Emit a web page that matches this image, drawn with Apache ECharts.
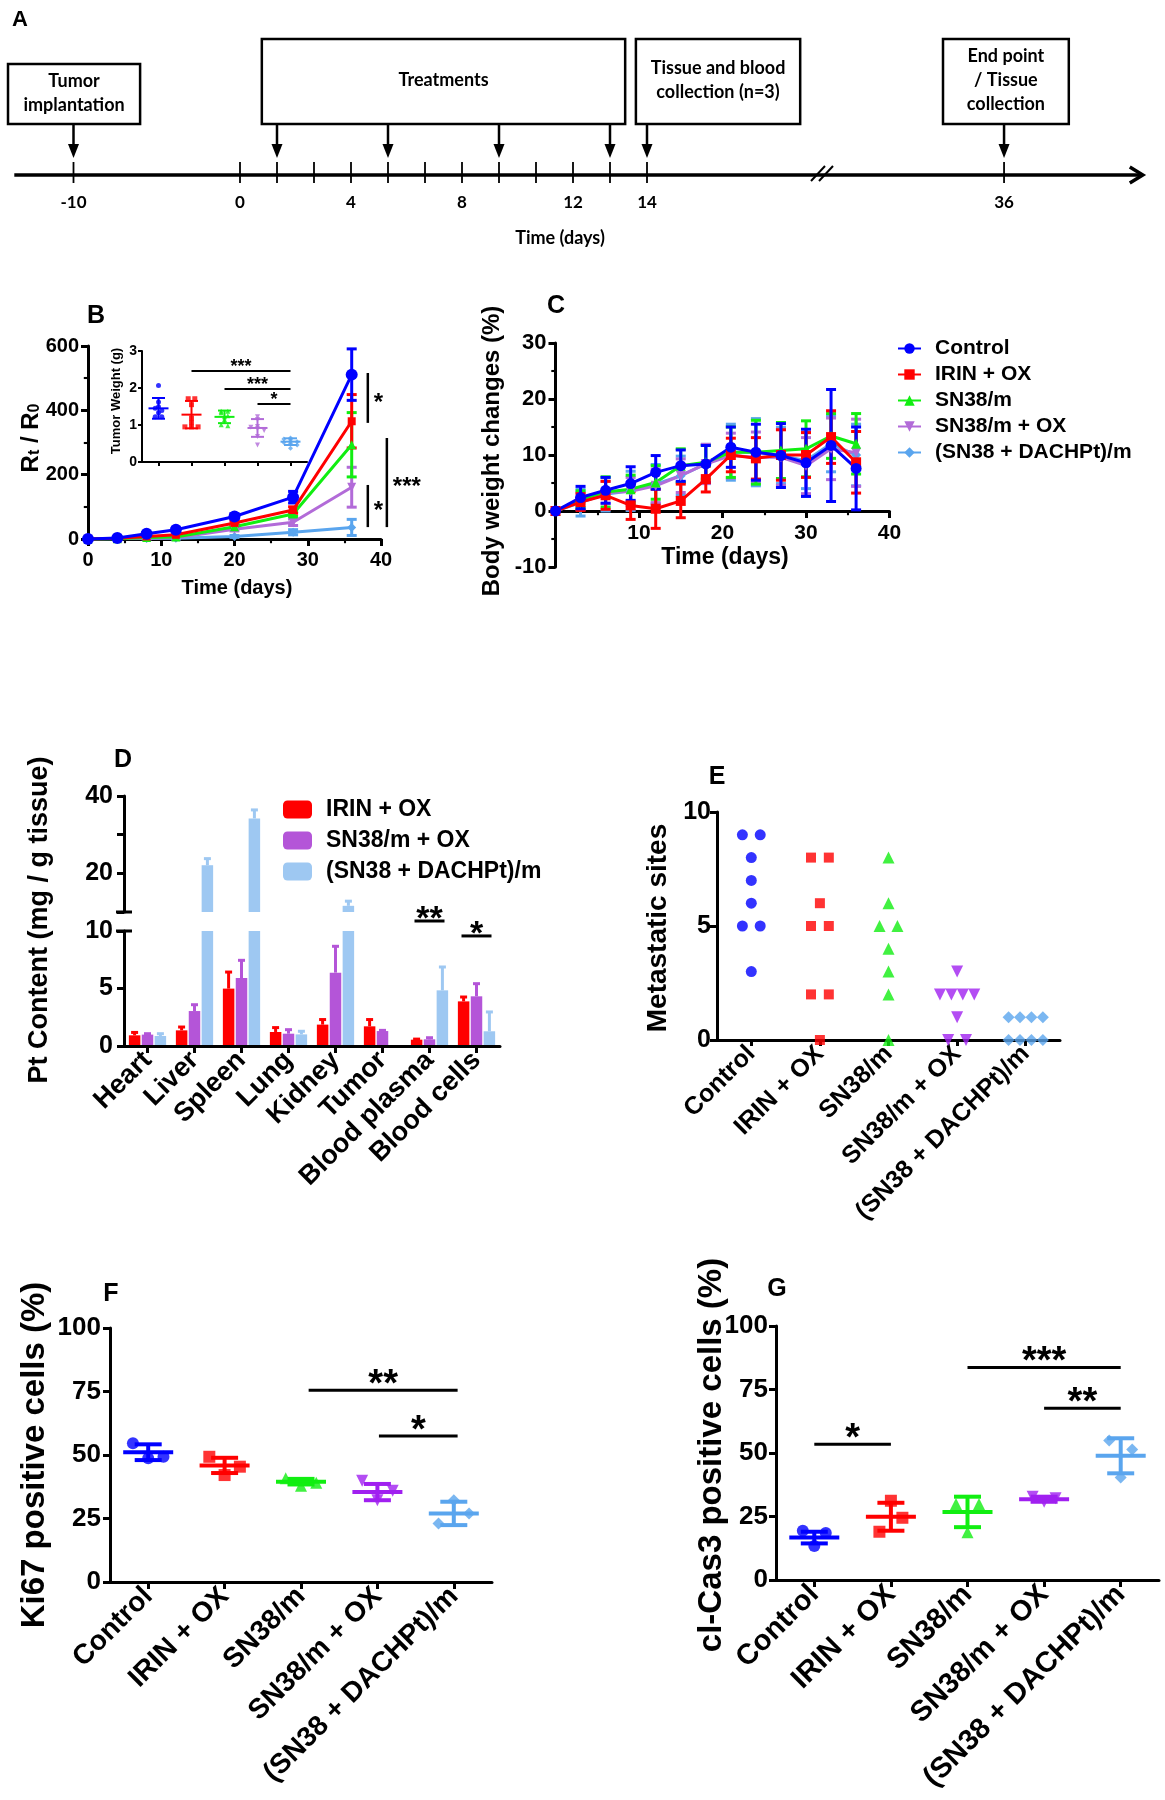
<!DOCTYPE html>
<html>
<head>
<meta charset="utf-8">
<script src="https://cdn.jsdelivr.net/npm/echarts@6.0.0/dist/echarts.min.js"></script>
<style>
html,body{margin:0;padding:0;background:#ffffff;}
#chart{width:1165px;height:1800px;}
</style>
</head>
<body>
<div id="chart"></div>
<script>
// ======================= DATA =======================
const groups = ['Control', 'IRIN + OX', 'SN38/m', 'SN38/m + OX', '(SN38 + DACHPt)/m'];

// ---- Panel A: schematic timeline (unit = one tick step of the schematic)
const timelineTicks = [-4.5, 0, 1, 2, 3, 4, 5, 6, 7, 8, 9, 10, 11, 20.65];
const timelineLabelPos = [-4.5, 0, 3, 6, 9, 11, 20.65];
const timelineLabels = ['-10', '0', '4', '8', '12', '14', '36'];
const eventArrows = [-4.5, 1, 4, 7, 10, 11, 20.65];
const timelineBreak = [15.73];
const timelineSpan = [-6.1, 24.4];
const boxLabels = ['Tumor\nimplantation', 'Treatments', 'Tissue and blood\ncollection (n=3)', 'End point\n/ Tissue\ncollection'];
const boxStart = [-6.27, 0.59, 10.70, 19.0];
const boxEnd = [-2.70, 10.41, 15.14, 22.4];

// ---- Panel B: Rt/R0 growth
const daysB = [0, 4, 8, 12, 20, 28, 36];
const growthControl = [0, 3, 16, 29, 70, 130, 511];
const growthIrin = [0, 2, 8, 13, 50, 90, 366];
const growthSn38 = [0, 1, 5, 6, 38, 78, 293];
const growthSn38Ox = [0, 1, 3, 4, 30, 52, 161];
const growthDachpt = [0, 0.5, 1.5, 2, 8, 21, 36];
const growthControlErr = [0, 2, 4, 5, 8, 18, 80];
const growthIrinErr = [0, 1, 3, 4, 6, 10, 83];
const growthSn38Err = [0, 1, 2, 3, 5, 8, 100];
const growthSn38OxErr = [0, 1, 2, 3, 5, 10, 62];
const growthDachptErr = [0, 0.5, 1, 2, 3, 8, 25];
const growthSig = [[38.2, 361, 516], [38.2, 37, 168], [40.8, 37, 314]];
const growthSigText = ['*', '*', '***'];

// ---- Panel B inset: tumor weight (g)
const twControl = [2.07, 1.62, 1.49, 1.45, 1.39, 1.33, 1.22, 1.22];
const twIrin = [1.71, 1.71, 1.55, 1.19, 1.07, 0.95, 0.95, 0.95];
const twSn38 = [1.37, 1.37, 1.33, 1.25, 1.22, 1.15, 1.01, 0.98];
const twSn38Ox = [1.22, 1.15, 0.96, 0.94, 0.90, 0.85, 0.69, 0.46];
const twDachpt = [0.65, 0.62, 0.60, 0.55, 0.53, 0.51, 0.46, 0.37];
const twMean = [1.45, 1.28, 1.22, 0.92, 0.55];
const twSd = [0.28, 0.37, 0.17, 0.24, 0.09];
const twSig = [[1, 4, 2.46], [2, 4, 1.97], [3, 4, 1.57]];
const twSigText = ['***', '***', '*'];

// ---- Panel C: body weight changes (%)
const daysC = [0, 3, 6, 9, 12, 15, 18, 21, 24, 27, 30, 33, 36];
const bwControl = [0, 2.4, 3.7, 4.9, 6.9, 8.1, 8.4, 11.4, 10.5, 9.9, 8.6, 11.7, 7.6];
const bwIrin = [0, 1.6, 2.8, 1.0, 0.4, 1.8, 5.7, 10.0, 9.4, 10.0, 10.0, 13.2, 8.7];
const bwSn38 = [0, 2.1, 3.4, 3.9, 5.1, 8.1, 8.7, 10.5, 10.5, 10.8, 11.1, 13.4, 12.0];
const bwSn38Ox = [0, 1.8, 3.3, 3.5, 4.5, 6.3, 8.4, 9.9, 9.6, 9.6, 8.1, 11.1, 10.4];
const bwDachpt = [0, 1.5, 3.0, 3.6, 4.8, 6.3, 8.4, 10.5, 10.5, 9.9, 9.0, 12.0, 10.0];
const bwControlErr = [0, 2.0, 2.3, 3.0, 3.0, 2.8, 3.3, 3.6, 5.0, 5.7, 6.0, 10.0, 7.4];
const bwIrinErr = [0, 1.5, 2.5, 2.5, 3.5, 3.0, 2.3, 3.0, 3.7, 4.5, 4.0, 4.7, 5.5];
const bwSn38Err = [0, 1.5, 2.7, 2.5, 3.0, 3.0, 3.0, 4.5, 5.7, 5.0, 5.0, 4.0, 5.4];
const bwSn38OxErr = [0, 1.5, 2.0, 2.5, 3.0, 3.0, 3.5, 4.0, 4.5, 5.0, 5.0, 5.5, 6.0];
const bwDachptErr = [0, 2.4, 3.0, 3.5, 3.5, 3.5, 3.5, 5.0, 6.0, 5.0, 5.0, 5.0, 5.5];

// ---- Panel D: Pt content (mg / g tissue)
const organs = ['Heart', 'Liver', 'Spleen', 'Lung', 'Kidney', 'Tumor', 'Blood plasma', 'Blood cells'];
const ptGroups = ['IRIN + OX', 'SN38/m + OX', '(SN38 + DACHPt)/m'];
const ptIrin = [0.93, 1.36, 4.99, 1.22, 1.86, 1.71, 0.55, 3.88];
const ptSn38Ox = [0.99, 3.04, 5.91, 1.07, 6.38, 1.30, 0.58, 4.32];
const ptDachpt = [0.87, 22.1, 34.2, 1.01, 11.6, 0, 4.84, 1.28];
const ptIrinErr = [0.25, 0.29, 1.44, 0.38, 0.44, 0.59, 0.05, 0.38];
const ptSn38OxErr = [0.08, 0.55, 1.54, 0.35, 2.29, 0.06, 0.14, 1.10];
const ptDachptErr = [0.20, 1.7, 2.2, 0.27, 1.2, 0, 2.03, 1.68];
const ptAxisBreak = [10];
const ptSig = [[6, 10.87], [7, 9.57]];
const ptSigText = ['**', '*'];

// ---- Panel E: metastatic sites
const metControl = [9, 9, 8, 7, 6, 5, 5, 3];
const metIrin = [8, 8, 6, 5, 5, 2, 2, 0];
const metSn38 = [8, 6, 5, 5, 4, 3, 2, 0];
const metSn38Ox = [3, 2, 2, 2, 2, 1, 0, 0];
const metDachpt = [1, 1, 1, 1, 0, 0, 0, 0];

// ---- Panel F: Ki67 positive cells (%) (points listed left, centre, right)
const ki67Control = [54.6, 48.7, 49.3];
const ki67Irin = [49.3, 42.1, 45.4];
const ki67Sn38 = [40.8, 37.9, 39.1];
const ki67Sn38Ox = [39.9, 32.2, 35.9];
const ki67Dachpt = [23.0, 32.2, 27.0];
const ki67Mean = [51.1, 45.9, 39.5, 35.4, 27.0];
const ki67Sd = [3.1, 3.0, 1.1, 3.2, 4.6];
const ki67Sig = [[2.1, 4.05, 75.5], [3.02, 4.05, 57.5]];
const ki67SigText = ['**', '*'];

// ---- Panel G: cl-Cas3 positive cells (%) (points listed left, centre, right)
const casControl = [19.4, 13.4, 18.5];
const casIrin = [19.0, 31.2, 24.5];
const casSn38 = [29.9, 18.8, 29.9];
const casSn38Ox = [32.8, 30.8, 32.2];
const casDachpt = [54.9, 40.4, 51.4];
const casMean = [16.7, 24.9, 26.8, 31.8, 48.9];
const casSd = [2.3, 5.5, 6.0, 1.0, 6.9];
const casSig = [[0, 1, 53.4], [2, 4, 83.7], [3, 4, 67.6]];
const casSigText = ['*', '***', '**'];

// ======================= STYLE =======================
const FONT = 'Liberation Sans, Arial, sans-serif';
const FONT_A = 'Lato, Calibri, sans-serif';
const COL = ['#0000FF', '#FF0000', '#11EE11', '#B26BD8', '#5AA5EE'];
const COL2 = ['#0000FF', '#FF0000', '#11EE11', '#A020F0', '#5AA5EE'];
const DCOL = ['#FF0000', '#B455D8', '#9EC8F2'];
const SYM = ['circle', 'rect', 'triangle', 'path://M0,0 L10,0 L5,10 Z', 'diamond'];

const growth = [growthControl, growthIrin, growthSn38, growthSn38Ox, growthDachpt];
const growthErr = [growthControlErr, growthIrinErr, growthSn38Err, growthSn38OxErr, growthDachptErr];
const tw = [twControl, twIrin, twSn38, twSn38Ox, twDachpt];
const bw = [bwControl, bwIrin, bwSn38, bwSn38Ox, bwDachpt];
const bwErr = [bwControlErr, bwIrinErr, bwSn38Err, bwSn38OxErr, bwDachptErr];
const pt = [ptIrin, ptSn38Ox, ptDachpt];
const ptErr = [ptIrinErr, ptSn38OxErr, ptDachptErr];
const met = [metControl, metIrin, metSn38, metSn38Ox, metDachpt];
const ki67 = [ki67Control, ki67Irin, ki67Sn38, ki67Sn38Ox, ki67Dachpt];
const cas = [casControl, casIrin, casSn38, casSn38Ox, casDachpt];

// ======================= HELPERS =======================
function ls(c, w) { return {stroke: c, lineWidth: w}; }
function textStyle(t, fs, align, family) {
  return {text: t, fontSize: fs, fontWeight: 'bold', fontFamily: family || FONT, fill: '#000',
          align: align || 'center', textAlign: align || 'center', verticalAlign: 'middle', textVerticalAlign: 'middle'};
}
function vAxis(p) {
  return {
    type: 'value', gridIndex: p.grid, min: p.min, max: p.max, interval: p.interval,
    show: p.show !== false, splitLine: {show: false}, minorSplitLine: {show: false},
    position: p.position, offset: p.offset || 0,
    axisLine: {show: true, onZero: false, lineStyle: {color: '#000', width: p.lw || 3}},
    axisTick: {show: true, length: p.tick || 7, lineStyle: {color: '#000', width: p.lw || 3}},
    minorTick: {show: !!p.minor, splitNumber: 2, length: (p.tick || 7) * 0.6, lineStyle: {color: '#000', width: (p.lw || 3) * 0.7}},
    axisLabel: {show: p.labels !== false, color: '#000', fontFamily: FONT, fontWeight: 'bold', fontSize: p.fs || 24,
                margin: p.margin || 10, showMinLabel: true, showMaxLabel: true, formatter: p.formatter},
    z: 3
  };
}
function cAxis(p) {
  return {
    type: 'category', gridIndex: p.grid, data: p.data, show: p.show !== false, boundaryGap: true,
    axisLine: {show: true, onZero: false, lineStyle: {color: '#000', width: p.lw || 3}},
    axisTick: {show: true, alignWithLabel: true, interval: 0, length: p.tick || 7, lineStyle: {color: '#000', width: p.lw || 3}},
    axisLabel: {show: p.labels !== false, interval: 0, rotate: p.rotate || 0, color: '#000', fontFamily: FONT,
                fontWeight: 'bold', fontSize: p.fs || 24, margin: p.margin || 10},
    splitLine: {show: false}, z: 3
  };
}
function symErr(color, lw, cap) {
  return function (params, api) {
    const x = api.value(0), y = api.value(1), e = api.value(2);
    if (!e) return null;
    const t = api.coord([x, y + e]), b = api.coord([x, y - e]);
    return {type: 'group', children: [
      {type: 'line', shape: {x1: t[0], y1: t[1], x2: b[0], y2: b[1]}, style: ls(color, lw)},
      {type: 'line', shape: {x1: t[0] - cap, y1: t[1], x2: t[0] + cap, y2: t[1]}, style: ls(color, lw)},
      {type: 'line', shape: {x1: b[0] - cap, y1: b[1], x2: b[0] + cap, y2: b[1]}, style: ls(color, lw)}
    ]};
  };
}
function meanSd(colors, lw, halfMean, halfCap) {
  return function (params, api) {
    const g = api.value(0), m = api.value(1), s = api.value(2);
    const c = api.coord([g, m]), t = api.coord([g, m + s]), b = api.coord([g, m - s]);
    const col = colors[g];
    return {type: 'group', children: [
      {type: 'line', shape: {x1: c[0] - halfMean, y1: c[1], x2: c[0] + halfMean, y2: c[1]}, style: ls(col, lw)},
      {type: 'line', shape: {x1: t[0], y1: t[1], x2: b[0], y2: b[1]}, style: ls(col, lw)},
      {type: 'line', shape: {x1: t[0] - halfCap, y1: t[1], x2: t[0] + halfCap, y2: t[1]}, style: ls(col, lw)},
      {type: 'line', shape: {x1: b[0] - halfCap, y1: b[1], x2: b[0] + halfCap, y2: b[1]}, style: ls(col, lw)}
    ]};
  };
}
function sigH(texts, lw, fs, gap) {
  return function (params, api) {
    const a = api.coord([api.value(0), api.value(2)]), b = api.coord([api.value(1), api.value(2)]);
    return {type: 'group', children: [
      {type: 'line', shape: {x1: a[0], y1: a[1], x2: b[0], y2: b[1]}, style: ls('#000', lw)},
      {type: 'text', x: (a[0] + b[0]) / 2, y: a[1] - gap + 0.22 * fs, style: textStyle(texts[params.dataIndex], fs)}
    ]};
  };
}
function sigCat(texts, lw, fs, gap, half) {
  return function (params, api) {
    const c = api.coord([api.value(0), api.value(1)]);
    return {type: 'group', children: [
      {type: 'line', shape: {x1: c[0] - half, y1: c[1], x2: c[0] + half, y2: c[1]}, style: ls('#000', lw)},
      {type: 'text', x: c[0], y: c[1] - gap + 0.22 * fs, style: textStyle(texts[params.dataIndex], fs)}
    ]};
  };
}
function sigV(texts, lw, fs, dx) {
  return function (params, api) {
    const a = api.coord([api.value(0), api.value(1)]), b = api.coord([api.value(0), api.value(2)]);
    return {type: 'group', children: [
      {type: 'line', shape: {x1: a[0], y1: a[1], x2: b[0], y2: b[1]}, style: ls('#000', lw)},
      {type: 'text', x: a[0] + dx, y: (a[1] + b[1]) / 2 + 0.22 * fs, style: textStyle(texts[params.dataIndex], fs, 'left')}
    ]};
  };
}
// horizontal spread of points sharing (nearly) the same value, in category units
function spread(vals, bin, maxStep, maxSpan) {
  const counts = {}, seen = {};
  vals.forEach(v => { const k = Math.round(v / bin); counts[k] = (counts[k] || 0) + 1; });
  return vals.map(v => {
    const k = Math.round(v / bin), n = counts[k];
    seen[k] = seen[k] === undefined ? 0 : seen[k] + 1;
    const step = n > 1 ? Math.min(maxStep, maxSpan / (n - 1)) : 0;
    return (seen[k] - (n - 1) / 2) * step;
  });
}

// ======================= LAYOUT =======================
const grids = [
  {left: 14.3, top: 14, width: 1128.5, height: 161},   // 0 A (axis at y=175)
  {left: 88, top: 346, width: 293, height: 193},       // 1 B
  {left: 142, top: 351, width: 165, height: 111},      // 2 B inset
  {left: 555.5, top: 343, width: 334, height: 224},    // 3 C
  {left: 124, top: 931, width: 376, height: 115},      // 4 D lower
  {left: 124, top: 796, width: 376, height: 116},      // 5 D upper
  {left: 717, top: 812, width: 343, height: 228},      // 6 E
  {left: 110, top: 1328, width: 382, height: 254},     // 7 F
  {left: 776, top: 1326, width: 383, height: 254}      // 8 G
].map(g => Object.assign({containLabel: false, outerBoundsMode: 'none', show: false}, g));

// C: x axis crosses the y axis at 0
const bwRange = [-10, 30];
const cXOffset = -grids[3].height * (0 - bwRange[0]) / (bwRange[1] - bwRange[0]);

const xAxes = [
  vAxis({grid: 0, min: timelineSpan[0], max: timelineSpan[1], show: false}),
  vAxis({grid: 1, min: 0, max: 40, interval: 10, minor: true, fs: 20, margin: 11}),
  cAxis({grid: 2, data: groups, labels: false, lw: 2, tick: 4}),
  vAxis({grid: 2, min: -0.5, max: 4.5, show: false}),
  vAxis({grid: 3, min: 0, max: 40, interval: 10, minor: true, fs: 21, margin: 12, position: 'bottom', offset: cXOffset,
         formatter: v => (v === 0 ? '' : String(v))}),
  cAxis({grid: 4, data: organs, rotate: 45, fs: 27, margin: 10}),
  cAxis({grid: 5, data: organs, show: false}),
  cAxis({grid: 6, data: groups, rotate: 45, fs: 25, tick: 6, margin: 10}),
  vAxis({grid: 6, min: -0.5, max: 4.5, show: false}),
  cAxis({grid: 7, data: groups, rotate: 45, fs: 28, margin: 10}),
  vAxis({grid: 7, min: -0.5, max: 4.5, show: false}),
  cAxis({grid: 8, data: groups, rotate: 45, fs: 29, margin: 10}),
  vAxis({grid: 8, min: -0.5, max: 4.5, show: false})
];
const yAxes = [
  vAxis({grid: 0, min: 0, max: 1, show: false}),
  vAxis({grid: 1, min: 0, max: 600, interval: 200, minor: true, fs: 20, margin: 9}),
  vAxis({grid: 2, min: 0, max: 3, interval: 1, fs: 14, lw: 2, tick: 4, margin: 5}),
  vAxis({grid: 3, min: bwRange[0], max: bwRange[1], interval: 10, minor: true, fs: 22, margin: 9}),
  vAxis({grid: 4, min: 0, max: 10, interval: 5, fs: 25, margin: 11}),
  vAxis({grid: 5, min: 10, max: 40, interval: 10, fs: 25, margin: 11,
         formatter: v => (v === 20 || v === 40 ? String(v) : '')}),
  vAxis({grid: 6, min: 0, max: 10, interval: 5, fs: 25, margin: 6}),
  vAxis({grid: 7, min: 0, max: 100, interval: 25, fs: 26, margin: 9}),
  vAxis({grid: 8, min: 0, max: 100, interval: 25, fs: 26, margin: 8})
];

// ======================= SERIES =======================
const series = [];

// ---- A: timeline
series.push({type: 'custom', xAxisIndex: 0, yAxisIndex: 0, silent: true, data: [timelineSpan],
  renderItem(params, api) {
    const a = api.coord([api.value(0), 0]), b = api.coord([api.value(1), 0]);
    return {type: 'group', children: [
      {type: 'line', shape: {x1: a[0], y1: a[1], x2: b[0] - 2, y2: b[1]}, style: ls('#000', 3.5)},
      {type: 'polyline', shape: {points: [[b[0] - 13, b[1] - 8], [b[0], b[1]], [b[0] - 13, b[1] + 8]]},
       style: {stroke: '#000', lineWidth: 3.5, fill: null}}
    ]};
  }});
series.push({type: 'custom', xAxisIndex: 0, yAxisIndex: 0, silent: true, data: timelineTicks.map(t => [t, 0]),
  renderItem(params, api) {
    const p = api.coord([api.value(0), 0]);
    return {type: 'line', shape: {x1: p[0], y1: p[1] - 13, x2: p[0], y2: p[1] + 8}, style: ls('#000', 1.8)};
  }});
series.push({type: 'custom', xAxisIndex: 0, yAxisIndex: 0, silent: true, data: timelineLabelPos.map((t, i) => [t, 0, i]),
  renderItem(params, api) {
    const p = api.coord([api.value(0), 0]);
    return {type: 'text', x: p[0], y: p[1] + 28, style: textStyle(timelineLabels[api.value(2)], 17, 'center', FONT_A)};
  }});
series.push({type: 'custom', xAxisIndex: 0, yAxisIndex: 0, silent: true, data: eventArrows.map(t => [t, 0]),
  renderItem(params, api) {
    const p = api.coord([api.value(0), 0]);
    return {type: 'group', children: [
      {type: 'line', shape: {x1: p[0], y1: p[1] - 52, x2: p[0], y2: p[1] - 28}, style: ls('#000', 2.5)},
      {type: 'polygon', shape: {points: [[p[0] - 5.5, p[1] - 31], [p[0] + 5.5, p[1] - 31], [p[0], p[1] - 17]]}, style: {fill: '#000'}}
    ]};
  }});
const boxTopOffset = [111, 136, 136, 136];
series.push({type: 'custom', xAxisIndex: 0, yAxisIndex: 0, silent: true, data: boxStart.map((s, i) => [s, 0, boxEnd[i], i]),
  renderItem(params, api) {
    const i = api.value(3);
    const a = api.coord([api.value(0), 0]), b = api.coord([api.value(2), 0]);
    const top = a[1] - boxTopOffset[i], bottom = a[1] - 51;
    const st = textStyle(boxLabels[i], 18, 'center', FONT_A); st.lineHeight = 24;
    return {type: 'group', children: [
      {type: 'rect', shape: {x: a[0], y: top, width: b[0] - a[0], height: bottom - top}, style: {stroke: '#000', lineWidth: 2.5, fill: '#fff'}},
      {type: 'text', x: (a[0] + b[0]) / 2, y: (top + bottom) / 2 - 1, style: st}
    ]};
  }});
series.push({type: 'custom', xAxisIndex: 0, yAxisIndex: 0, silent: true, data: timelineBreak.map(t => [t, 0]),
  renderItem(params, api) {
    const p = api.coord([api.value(0), 0]);
    return {type: 'group', children: [
      {type: 'line', shape: {x1: p[0] - 11, y1: p[1] + 6, x2: p[0] + 3, y2: p[1] - 9}, style: ls('#000', 2)},
      {type: 'line', shape: {x1: p[0] - 3, y1: p[1] + 6, x2: p[0] + 11, y2: p[1] - 9}, style: ls('#000', 2)}
    ]};
  }});

const drawOrder = [4, 3, 2, 1, 0];
// ---- B: growth curves
const symB = [12, 8, 9, 9, 9];
drawOrder.forEach(i => {
  series.push({type: 'custom', xAxisIndex: 1, yAxisIndex: 1, silent: true, z: 4,
    data: daysB.map((d, j) => [d, growth[i][j], growthErr[i][j]]), renderItem: symErr(COL[i], 3, 5)});
  series.push({type: 'line', name: 'B|' + groups[i], xAxisIndex: 1, yAxisIndex: 1, z: 4,
    data: daysB.map((d, j) => [d, growth[i][j]]), symbol: SYM[i], symbolSize: symB[i], showSymbol: true,
    lineStyle: {width: 3, color: COL[i]}, itemStyle: {color: COL[i]}});
});
series.push({type: 'custom', xAxisIndex: 1, yAxisIndex: 1, silent: true, data: growthSig, renderItem: sigV(growthSigText, 2.5, 24, 6)});

// ---- B inset
tw.forEach((vals, i) => {
  const off = spread(vals, 0.1, 0.2, 0.6);
  series.push({type: 'scatter', name: 'Bi|' + groups[i], xAxisIndex: 3, yAxisIndex: 2, z: 4,
    data: vals.map((v, j) => [i + off[j], v]), symbol: SYM[i], symbolSize: 5, itemStyle: {color: COL[i]}});
});
series.push({type: 'custom', xAxisIndex: 3, yAxisIndex: 2, silent: true, z: 5,
  data: twMean.map((m, i) => [i, m, twSd[i]]), renderItem: meanSd(COL, 2, 10, 6.5)});
series.push({type: 'custom', xAxisIndex: 3, yAxisIndex: 2, silent: true, data: twSig, renderItem: sigH(twSigText, 2, 18, 8)});

// ---- C: body weight
const symC = [11, 10, 10, 10, 10];
drawOrder.forEach(i => {
  series.push({type: 'custom', xAxisIndex: 4, yAxisIndex: 3, silent: true, z: 4,
    data: daysC.map((d, j) => [d, bw[i][j], bwErr[i][j]]), renderItem: symErr(COL[i], 3, 5)});
  series.push({type: 'line', name: 'C|' + groups[i], xAxisIndex: 4, yAxisIndex: 3, z: 4,
    data: daysC.map((d, j) => [d, bw[i][j]]), symbol: SYM[i], symbolSize: symC[i], showSymbol: true,
    lineStyle: {width: 3, color: COL[i]}, itemStyle: {color: COL[i]}});
});

// ---- D: Pt content, broken axis (lower 0-10, upper 10-40)
const BAR_W = 11.5, BAR_GAP = 1.4;
pt.forEach((vals, k) => {
  series.push({type: 'bar', name: 'D|' + ptGroups[k], xAxisIndex: 5, yAxisIndex: 4, data: vals,
    barWidth: BAR_W, barGap: '12%', clip: true, itemStyle: {color: DCOL[k]}});
});
pt.forEach((vals, k) => {
  series.push({type: 'bar', name: 'Du|' + ptGroups[k], xAxisIndex: 6, yAxisIndex: 5, data: vals,
    barWidth: BAR_W, barGap: '12%', clip: true, itemStyle: {color: DCOL[k]}});
});
function barErr(lo, hi) {
  return function (params, api) {
    const c = api.value(0), v = api.value(1), e = api.value(2), k = api.value(3);
    if (!(v >= lo && v < hi) || !e) return null;
    const x = api.coord([c, v])[0] + (k - 1) * (BAR_W + BAR_GAP);
    const y0 = api.coord([c, v])[1], y1 = api.coord([c, v + e])[1];
    return {type: 'group', children: [
      {type: 'line', shape: {x1: x, y1: y0, x2: x, y2: y1}, style: ls(DCOL[k], 3)},
      {type: 'line', shape: {x1: x - 3.5, y1: y1, x2: x + 3.5, y2: y1}, style: ls(DCOL[k], 3)}
    ]};
  };
}
const ptErrData = [];
pt.forEach((vals, k) => vals.forEach((v, c) => ptErrData.push([c, v, ptErr[k][c], k])));
series.push({type: 'custom', xAxisIndex: 5, yAxisIndex: 4, silent: true, z: 3, data: ptErrData, renderItem: barErr(-1, 10)});
series.push({type: 'custom', xAxisIndex: 6, yAxisIndex: 5, silent: true, z: 3, data: ptErrData, renderItem: barErr(10, 1000)});
series.push({type: 'custom', xAxisIndex: 5, yAxisIndex: 4, silent: true, data: ptSig, renderItem: sigCat(ptSigText, 3, 34, 9, 15)});
function breakMark(params, api) {
  const y = api.coord([0, api.value(0)])[1];
  const x = params.coordSys.x;
  return {type: 'line', shape: {x1: x - 8, y1: y, x2: x + 8, y2: y}, style: ls('#000', 3)};
}
series.push({type: 'custom', xAxisIndex: 5, yAxisIndex: 4, silent: true, data: ptAxisBreak.map(v => [v]), encode: {y: 0}, renderItem: breakMark});
series.push({type: 'custom', xAxisIndex: 6, yAxisIndex: 5, silent: true, data: ptAxisBreak.map(v => [v]), encode: {y: 0}, renderItem: breakMark});

// ---- E: metastatic sites
met.forEach((vals, i) => {
  const off = spread(vals, 1, 0.26, 0.5);
  series.push({type: 'scatter', name: 'E|' + groups[i], xAxisIndex: 8, yAxisIndex: 6, z: 4,
    data: vals.map((v, j) => [i + off[j], v]), symbol: SYM[i], symbolSize: [11, 10, 12, 12, 12][i], itemStyle: {color: COL2[i]}});
});

// ---- F and G: dot plots with mean +/- SD
function dotPanel(data, mean, sd, sig, sigText, xIdx, yIdx, tag, jit) {
  data.forEach((vals, i) => {
    series.push({type: 'scatter', name: tag + '|' + groups[i], xAxisIndex: xIdx, yAxisIndex: yIdx, z: 4,
      data: vals.map((v, j) => [i + (j - 1) * jit, v]), symbol: SYM[i], symbolSize: 12, itemStyle: {color: COL2[i]}});
  });
  series.push({type: 'custom', xAxisIndex: xIdx, yAxisIndex: yIdx, silent: true, z: 5,
    data: mean.map((m, i) => [i, m, sd[i]]), renderItem: meanSd(COL2, 4, 25, 13.5)});
  series.push({type: 'custom', xAxisIndex: xIdx, yAxisIndex: yIdx, silent: true, data: sig, renderItem: sigH(sigText, 3, 38, 13)});
}
dotPanel(ki67, ki67Mean, ki67Sd, ki67Sig, ki67SigText, 10, 7, 'F', 0.2);
dotPanel(cas, casMean, casSd, casSig, casSigText, 12, 8, 'G', 0.15);

// ======================= TEXT =======================
function gText(t, x, y, fs, rot, family) {
  return {type: 'text', x: x, y: y, rotation: rot || 0, silent: true, style: textStyle(t, fs, 'center', family)};
}
const rich = {
  m: {fontSize: 24, fontWeight: 'bold', fontFamily: FONT, lineHeight: 26, verticalAlign: 'bottom'},
  s: {fontSize: 16, fontWeight: 'bold', fontFamily: FONT, lineHeight: 12, verticalAlign: 'bottom'}
};
const graphicEls = [
  gText('A', 20, 20, 22), gText('B', 96, 316, 25), gText('C', 556, 306, 25), gText('D', 123, 760, 25),
  gText('E', 717, 777, 25), gText('F', 111, 1294, 25), gText('G', 777, 1289, 25),
  gText('Time (days)', 560, 238, 18, 0, FONT_A),
  gText('Time (days)', 237, 588, 20),
  {type: 'text', x: 30, y: 438, rotation: Math.PI / 2, silent: true,
   style: {text: '{m|R}{s|t}{m| / R}{s|0}', rich: rich, fill: '#000', align: 'center', textAlign: 'center', verticalAlign: 'middle', textVerticalAlign: 'middle'}},
  gText('Tumor Weight (g)', 116, 401, 13, Math.PI / 2),
  gText('Time (days)', 725, 558, 23),
  gText('Body weight changes (%)', 492, 451, 24, Math.PI / 2),
  gText('Pt Content (mg / g tissue)', 40, 920, 27, Math.PI / 2),
  gText('Metastatic sites', 658, 928, 28, Math.PI / 2),
  gText('Ki67 positive cells (%)', 35, 1455, 33, Math.PI / 2),
  gText('cl-Cas3 positive cells (%)', 712, 1455, 33, Math.PI / 2)
];

// ======================= CHART =======================
const chart = echarts.init(document.getElementById('chart'), null, {renderer: 'canvas', width: 1165, height: 1800});
chart.setOption({
  animation: false,
  backgroundColor: '#ffffff',
  textStyle: {fontFamily: FONT},
  grid: grids,
  xAxis: xAxes,
  yAxis: yAxes,
  legend: [
    {data: groups.map(g => 'C|' + g), orient: 'vertical', left: 892, top: 333, itemWidth: 23, itemHeight: 13, itemGap: 5,
     selectedMode: false, formatter: n => n.split('|')[1],
     textStyle: {fontSize: 21, fontWeight: 'bold', fontFamily: FONT, color: '#000', lineHeight: 21, padding: [0, 0, 0, 9]}},
    {data: ptGroups.map(g => 'D|' + g), orient: 'vertical', left: 278, top: 793, itemWidth: 29, itemHeight: 18, itemGap: 8,
     icon: 'roundRect', selectedMode: false, formatter: n => n.split('|')[1],
     textStyle: {fontSize: 23, fontWeight: 'bold', fontFamily: FONT, color: '#000', lineHeight: 23, padding: [0, 0, 0, 9]}}
  ],
  graphic: {elements: graphicEls},
  series: series
});
</script>
</body>
</html>
